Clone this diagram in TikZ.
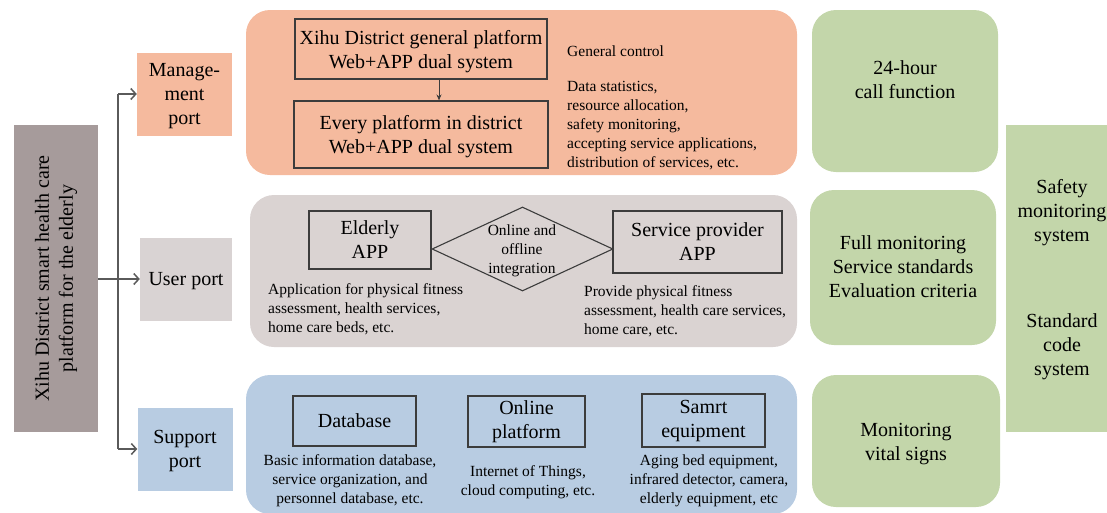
\documentclass[tikz,border=0pt]{standalone}
\usepackage{fontspec}
\setmainfont{Liberation Serif}
\usetikzlibrary{shapes.geometric,arrows.meta,positioning}
\definecolor{salmonFill}{RGB}{245,186,158}
\definecolor{rootGray}{RGB}{166,155,155}
\definecolor{userGray}{RGB}{217,211,211}
\definecolor{supportBlue}{RGB}{184,204,226}
\definecolor{panelGray}{RGB}{218,211,210}
\definecolor{leafGreen}{RGB}{195,214,170}
\definecolor{frameGray}{RGB}{60,60,60}
\definecolor{linkGray}{RGB}{90,90,90}
\newcommand{\bigtxt}{\fontsize{20}{24}\selectfont}
\newcommand{\smalltxt}{\fontsize{15.5}{19}\selectfont}

\begin{document}
\begin{tikzpicture}[x=1pt,y=-1pt,
    port/.style={minimum width=95pt,minimum height=83pt,inner sep=0pt,align=center,font=\bigtxt,text depth=-2pt},
    panel/.style={rounded corners=24pt},
    framebox/.style={draw=frameGray,line width=1.1pt,inner sep=0pt,align=center,font=\bigtxt},
    note/.style={font=\smalltxt,align=left,inner sep=0pt,anchor=west},
    caption/.style={font=\smalltxt,align=center,inner sep=0pt},
    boxtext/.style={font=\bigtxt,align=center,inner sep=0pt},
    conn/.style={draw=linkGray,line width=1.5pt,-{Straight Barb[length=5pt,width=11pt]}}
  ]
  \useasboundingbox (0,0) rectangle (1107,512);

  % root and ports
  \node[fill=rootGray,minimum width=84pt,minimum height=307pt] (platform) at (56,278.5) {};
  \node[boxtext,rotate=90] (platformtext) at (platform) {Xihu District smart health care\\platform for the elderly};
  \node[port,fill=salmonFill] (mgmt) at (184.5,94) {Manage-\\ment\\port};
  \node[port,fill=userGray,minimum width=92pt] (user) at (186,279) {User port};
  \node[port,fill=supportBlue] (support) at (185,449) {Support\\port};

  \coordinate (fork) at (118,279);
  \draw[conn] (platform.east |- user) -- (user.west);
  \draw[draw=linkGray,line width=1.5pt] (fork |- mgmt) -- (fork |- support);
  \draw[conn] (fork |- mgmt) -- (mgmt.west);
  \draw[conn] (fork |- support) -- (support.west);

  % management panel
  \fill[panel,fill=salmonFill] (246,10) rectangle (797,175);
  \node[framebox,minimum width=252pt,minimum height=60pt,text depth=-10pt] (general) at (421,49) {Xihu District general platform\\Web+APP dual system};
  \node[framebox,minimum width=254pt,minimum height=67pt,text depth=-10pt] (every) at (421,134.5) {Every platform in district\\Web+APP dual system};
  \coordinate (drop) at (439,0);
  \draw[frameGray,line width=1pt,-{Stealth[length=6pt,width=5pt]}] (general.south -| drop) -- (every.north -| drop);
  \node[note] (control) at (567,51) {General control};
  \node[note] (duties) at (567,126) {Data statistics,\\resource allocation,\\safety monitoring,\\accepting service applications,\\distribution of services, etc.};

  % user panel
  \fill[panel,fill=panelGray] (250,195) rectangle (797,347);
  \node[framebox,minimum width=122pt,minimum height=58pt,text depth=-6pt] (elderly) at (370,240) {Elderly\\APP};
  \node[framebox,minimum width=169pt,minimum height=62pt,text depth=-6pt] (provider) at (697.5,242) {Service provider\\APP};
  \node[draw=frameGray,line width=1.1pt,diamond,minimum width=181pt,minimum height=84pt,inner sep=0pt] (link) at (522.5,249) {};
  \node[caption] (linktext) at (522,251) {Online and\\offline\\integration};
  \node[note] (elderlynote) at (268,309) {Application for physical fitness\\assessment, health services,\\home care beds, etc.};
  \node[note] (providernote) at (584,311) {Provide physical fitness\\assessment, health care services,\\home care, etc.};

  % support panel
  \fill[panel,fill=supportBlue] (246,375) rectangle (797,514);
  \node[framebox,minimum width=123pt,minimum height=50pt,text depth=-8pt] (database) at (354.5,421) {Database};
  \node[framebox,minimum width=117pt,minimum height=51pt] (online) at (526.5,421.5) {Online\\platform};
  \node[framebox,minimum width=123pt,minimum height=53pt] (equipment) at (703.5,420.5) {Samrt\\equipment};
  \node[caption] (databasenote) at (350,481) {Basic information database,\\service organization, and\\personnel database, etc.};
  \node[caption] (onlinenote) at (528,482.5) {Internet of Things,\\cloud computing, etc.};
  \node[caption] (equipmentnote) at (709,481) {Aging bed equipment,\\infrared detector, camera,\\elderly equipment, etc};

  % green column
  \fill[panel,fill=leafGreen] (812,10) rectangle (998,172);
  \node[boxtext] (call) at (905,80) {24-hour\\call function};
  \fill[panel,fill=leafGreen] (810,190) rectangle (996,345);
  \node[boxtext] (standards) at (903,267) {Full monitoring\\Service standards\\Evaluation criteria};
  \fill[panel,fill=leafGreen] (812,375) rectangle (1000,507);
  \node[boxtext] (vital) at (906,444) {Monitoring\\vital signs};
  \fill[leafGreen] (1006,125) rectangle (1107,432);
  \node[boxtext] (safety) at (1062,213) {Safety\\monitoring\\system};
  \node[boxtext] (code) at (1062,347) {Standard\\code\\system};
\end{tikzpicture}
\end{document}
